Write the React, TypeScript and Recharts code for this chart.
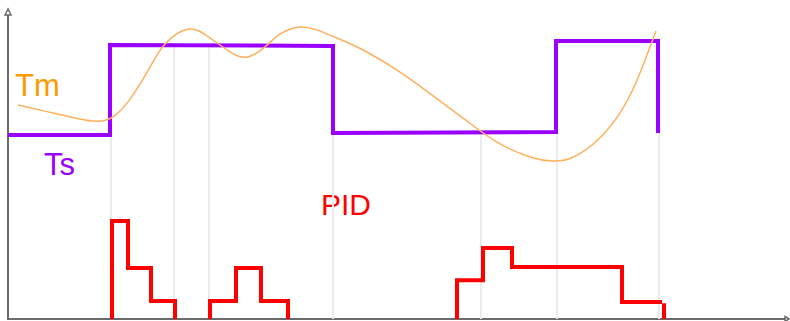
import React from 'react';
import {
    LineChart,
    Line,
    XAxis,
    YAxis,
    ReferenceLine,
    Customized
} from 'recharts';

// time (x) and level (y, 0..100)
const tsPoints: [number, number][] = [
    [0, 59.2], [10.2, 59.2], [10.2, 88.1], [32.5, 87.8], [32.5, 59.8],
    [54.8, 60.1], [54.8, 89.4], [65.0, 89.4], [65.0, 59.8],
];

const tmPoints: [number, number][] = [
    [1.0, 68.8], [4.0, 66.6], [7.0, 64.4], [9.0, 63.6], [10.5, 65.0],
    [12.2, 70.7], [14.2, 81.0], [15.7, 88.4], [18.0, 93.2], [20.2, 90.4],
    [22.2, 85.9], [23.9, 84.2], [25.7, 87.5], [27.2, 91.6], [29.2, 93.9],
    [31.0, 92.8], [33.0, 90.2], [35.5, 86.5], [38.9, 80.0], [42.2, 72.5],
    [45.5, 64.6], [48.9, 56.9], [52.2, 52.1], [54.4, 50.8], [56.5, 52.0],
    [59.2, 58.3], [61.5, 67.8], [63.2, 79.1], [64.8, 92.6],
];

// null breaks the line between pulses
const pidPoints: [number, number | null][] = [
    [10.4, 0], [10.4, 31.5], [12.0, 31.5], [12.0, 16.4], [14.3, 16.4], [14.3, 5.8],
    [16.7, 5.8], [16.7, 0], [18.0, null],
    [20.2, 0], [20.2, 5.8], [22.8, 5.8], [22.8, 16.4], [25.3, 16.4], [25.3, 5.8],
    [28.0, 5.8], [28.0, 0], [36.0, null],
    [44.9, 0], [44.9, 12.5], [47.5, 12.5], [47.5, 22.8], [50.4, 22.8], [50.4, 16.7],
    [61.4, 16.7], [61.4, 5.5], [65.4, 5.5], [65.5, null],
    [65.6, 5.1], [65.6, 0],
];

// gray markers: [time, top level]
const markers: [number, number][] = [
    [10.3, 59.2], [16.6, 88.1], [20.1, 88.1], [32.5, 59.8],
    [47.3, 59.8], [54.9, 60.1], [65.1, 59.8],
];

const toRows = (pts: [number, number | null][]) => pts.map(([t, v]) => ({ t, v }));

const tsData = toRows(tsPoints);
const tmData = toRows(tmPoints);
const pidData = toRows(pidPoints);

const font = 'Liberation Sans, Arial, sans-serif';

const Decorations = () => (
    <g>
        <line x1={8} y1={12} x2={8} y2={320} stroke="#6b6b6b" strokeWidth={2} />
        <line x1={7} y1={319} x2={786} y2={319} stroke="#6b6b6b" strokeWidth={2} />
        <polygon points="8,9 5,15 11,15" fill="#fff" stroke="#6b6b6b" strokeWidth={1.5} />
        <polygon points="789,319 785,316.5 785,321.5" fill="#fff" stroke="#6b6b6b" strokeWidth={1.5} />
        <text x={15} y={96} fill="#ff9900" fontSize={31} fontFamily={font}>Tm</text>
        <text x={44} y={175} fill="#9900ff" fontSize={31} fontFamily={font}>Ts</text>
        <text x={321} y={215} fill="#ff0000" fontSize={30} fontFamily={font}>PID</text>
    </g>
);

const App: React.FC = () => {
    return (
        <div style={{ position: 'absolute', left: 0, top: 0, background: '#fff' }}>
            <LineChart
                width={790}
                height={321}
                margin={{ top: 8, right: 3, left: 8, bottom: 2 }}
            >
                <XAxis type="number" dataKey="t" domain={[0, 77.9]} allowDataOverflow hide />
                <YAxis type="number" domain={[0, 100]} allowDataOverflow hide />
                {markers.map(([t, top]) => (
                    <ReferenceLine
                        key={t}
                        segment={[{ x: t, y: 0 }, { x: t, y: top }]}
                        stroke="#ebebeb"
                        strokeWidth={2}
                    />
                ))}
                <Line
                    data={pidData}
                    dataKey="v"
                    type="linear"
                    stroke="#ff0000"
                    strokeWidth={4}
                    dot={false}
                    activeDot={false}
                    connectNulls={false}
                    isAnimationActive={false}
                />
                <Line
                    data={tsData}
                    dataKey="v"
                    type="linear"
                    stroke="#9900ff"
                    strokeWidth={4}
                    dot={false}
                    activeDot={false}
                    isAnimationActive={false}
                />
                <Line
                    data={tmData}
                    dataKey="v"
                    type="natural"
                    stroke="#ffb05c"
                    strokeWidth={1.5}
                    dot={false}
                    activeDot={false}
                    isAnimationActive={false}
                />
                <Customized component={Decorations} />
            </LineChart>
        </div>
    );
};

export default App;
